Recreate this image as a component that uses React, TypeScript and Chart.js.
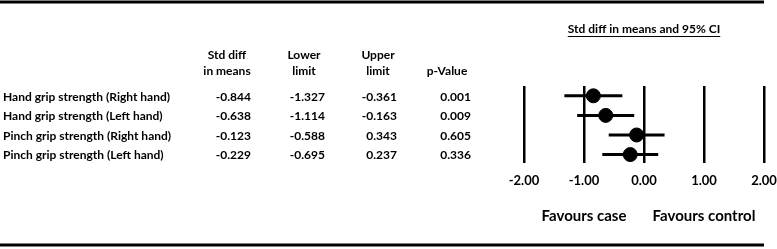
import React, { useEffect, useRef } from "react";
import { Chart, registerables } from "chart.js";

Chart.register(...registerables);

const studies = [
  "Hand grip strength (Right hand)",
  "Hand grip strength (Left hand)",
  "Pinch grip strength (Right hand)",
  "Pinch grip strength (Left hand)",
];
const stdDiff = [-0.844, -0.638, -0.123, -0.229];
const lowerLimit = [-1.327, -1.114, -0.588, -0.695];
const upperLimit = [-0.361, -0.163, 0.343, 0.237];
const pValue = ["0.001", "0.009", "0.605", "0.336"];
const xTicks = [-2, -1, 0, 1, 2];
const title = "Std diff in means and 95% CI";
const favourLeft = "Favours case";
const favourRight = "Favours control";

const FONT = "Lato, 'Open Sans', sans-serif";

const tablePlugin = {
  id: "forestTable",
  afterDraw(chart: any) {
    const ctx = chart.ctx as CanvasRenderingContext2D;
    const xs = chart.scales.x;
    const ys = chart.scales.y;
    ctx.save();
    ctx.fillStyle = "#000";
    ctx.strokeStyle = "#000";

    // top / bottom rules
    ctx.lineWidth = 3;
    ctx.beginPath();
    ctx.moveTo(0, 2);
    ctx.lineTo(764, 2);
    ctx.moveTo(0, 245);
    ctx.lineTo(764, 245);
    ctx.stroke();

    ctx.font = `bold 12px ${FONT}`;
    ctx.textBaseline = "middle";

    // title with underline
    const cx = xs.getPixelForValue(0);
    ctx.textAlign = "center";
    ctx.fillText(title, cx, 29);
    const tw = ctx.measureText(title).width;
    ctx.lineWidth = 1;
    ctx.beginPath();
    ctx.moveTo(cx - tw / 2, 36.5);
    ctx.lineTo(cx + tw / 2, 36.5);
    ctx.stroke();

    // column headers
    const colRight = [251, 325, 397, 471];
    const colCenter = [227, 304, 378, 447];
    ctx.fillText("Std diff", colCenter[0], 55);
    ctx.fillText("in means", colCenter[0], 71);
    ctx.fillText("Lower", colCenter[1], 55);
    ctx.fillText("limit", colCenter[1], 71);
    ctx.fillText("Upper", colCenter[2], 55);
    ctx.fillText("limit", colCenter[2], 71);
    ctx.fillText("p-Value", colCenter[3], 71);

    // rows
    studies.forEach((name, i) => {
      const y = ys.getPixelForValue(i + 1) + 1;
      ctx.textAlign = "left";
      ctx.fillText(name, 3, y);
      ctx.textAlign = "right";
      ctx.fillText(stdDiff[i].toFixed(3), colRight[0], y);
      ctx.fillText(lowerLimit[i].toFixed(3), colRight[1], y);
      ctx.fillText(upperLimit[i].toFixed(3), colRight[2], y);
      ctx.fillText(pValue[i], colRight[3], y);
    });

    // favours labels
    ctx.font = `bold 15px ${FONT}`;
    ctx.textAlign = "center";
    ctx.fillText(favourLeft, xs.getPixelForValue(-1), 216);
    ctx.fillText(favourRight, xs.getPixelForValue(1), 216);
    ctx.restore();
  },
};

export default function App() {
  const ref = useRef<HTMLCanvasElement | null>(null);
  useEffect(() => {
    document.body.style.margin = "0";
    if (!ref.current) return;
    const ciSets = studies.map((s, i) => ({
      type: "line" as const,
      label: s,
      data: [
        { x: lowerLimit[i], y: i + 1 },
        { x: upperLimit[i], y: i + 1 },
      ],
      borderColor: "#000",
      borderWidth: 3,
      pointRadius: 0,
      showLine: true,
      clip: false as any,
    }));
    const chart = new Chart(ref.current, {
      type: "scatter",
      data: {
        datasets: [
          ...ciSets,
          {
            type: "scatter",
            label: "Std diff in means",
            data: stdDiff.map((v, i) => ({ x: v, y: i + 1 })),
            backgroundColor: "#000",
            borderColor: "#000",
            pointRadius: 7,
            clip: false as any,
          },
        ] as any,
      },
      options: {
        animation: false,
        responsive: false,
        events: [],
        layout: { padding: { left: 524, right: 13, top: 86, bottom: 50 } },
        plugins: { legend: { display: false }, tooltip: { enabled: false } },
        scales: {
          x: {
            type: "linear",
            min: -2,
            max: 2,
            afterBuildTicks: (axis: any) => {
              axis.ticks = xTicks.map((v) => ({ value: v }));
            },
            afterFit: (axis: any) => {
              axis.paddingLeft = 0;
              axis.paddingRight = 0;
            },
            ticks: {
              color: "#000",
              padding: 10,
              font: { family: FONT, size: 13, weight: "bold" },
              callback: (v: any) => Number(v).toFixed(2),
            },
            grid: { color: "#000", lineWidth: 2.5, drawTicks: false },
            border: { display: false },
          },
          y: {
            type: "linear",
            min: 0.5,
            max: 4.45,
            reverse: true,
            display: false,
          },
        },
      },
      plugins: [tablePlugin],
    });
    return () => chart.destroy();
  }, []);
  return (
    <div style={{ width: 777, height: 249 }}>
      <canvas ref={ref} width={777} height={249} style={{ display: "block" }} />
    </div>
  );
}
